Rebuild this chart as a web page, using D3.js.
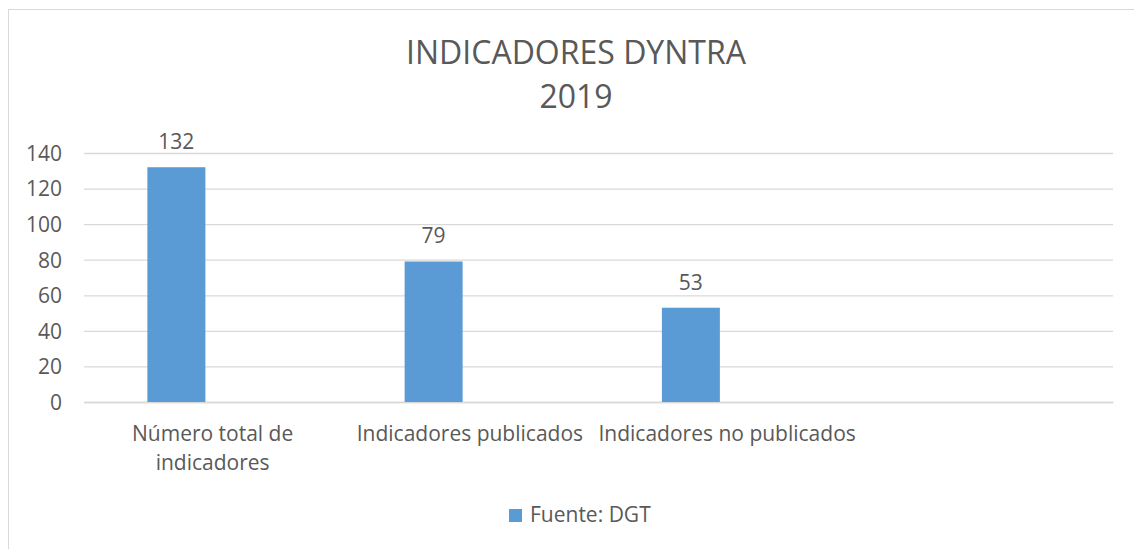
<!DOCTYPE html>
<html>
<head>
<meta charset="utf-8">
<script src="https://cdn.jsdelivr.net/npm/d3@7"></script>
<style>
  body { margin: 0; background: #fff; }
  text { font-family: "Open Sans", sans-serif; fill: #595959; }
</style>
</head>
<body>
<div id="wrapper"></div>
<script>
// data
const categories = ["Número total de indicadores", "Indicadores publicados", "Indicadores no publicados", ""];
const categoryLines = [["Número total de", "indicadores"], ["Indicadores publicados"], ["Indicadores no publicados"], [""]];
const values = [132, 79, 53, null];
const seriesName = "Fuente: DGT";
const yTicks = [0, 20, 40, 60, 80, 100, 120, 140];
const titleLines = ["INDICADORES DYNTRA", "2019"];

function buildPlot() {
    var dimension = {
        width: 1134,
        height: 549,
        margin: { top: 153, left: 84, right: 21, bottom: 147 }
    };
    dimension.boundedWidth = dimension.width - dimension.margin.left - dimension.margin.right;
    dimension.boundedHeight = dimension.height - dimension.margin.top - dimension.margin.bottom;

    const svg = d3.select("#wrapper").append("svg")
        .attr("width", dimension.width)
        .attr("height", dimension.height);

    svg.append("rect")
        .attr("width", dimension.width).attr("height", dimension.height)
        .attr("fill", "#fff");

    // chart frame (runs off the right and bottom of the picture)
    svg.append("rect")
        .attr("x", 8.5).attr("y", 9.5)
        .attr("width", 1200).attr("height", 600)
        .attr("fill", "none")
        .attr("stroke", "#D9D9D9");

    //title
    svg.append("text")
        .attr("text-anchor", "middle")
        .style("font-size", "32px")
        .selectAll("tspan")
        .data(titleLines)
        .join("tspan")
        .attr("x", 576)
        .attr("y", (d, i) => 64 + i * 44)
        .text(d => d);

    const bounded = svg.append("g")
        .attr("transform", `translate(${dimension.margin.left},${dimension.margin.top})`);

    const yScaler = d3.scaleLinear()
        .domain([0, 140])
        .range([dimension.boundedHeight, 0]);

    const xScaler = d3.scaleBand()
        .domain(categories)
        .range([0, dimension.boundedWidth]);

    // bars sit in the first slot of a two-slot cluster
    const slot = d3.scaleBand()
        .domain([0, 1])
        .range([-65.25, 65.25])
        .paddingInner(0.2);

    //gridlines + y labels
    const yAxis = bounded.append("g")
        .call(d3.axisLeft(yScaler).tickValues(yTicks).tickSize(-dimension.boundedWidth).tickPadding(22));
    yAxis.select(".domain").remove();
    yAxis.selectAll(".tick line").attr("stroke", "#D9D9D9").attr("stroke-width", 1.3);
    yAxis.selectAll(".tick text")
        .style("font-size", "21px")
        .attr("fill", "#595959")
        .attr("dy", "0.35em");

    //x axis
    const xAxis = bounded.append("g")
        .attr("transform", `translate(0,${dimension.boundedHeight})`)
        .call(d3.axisBottom(xScaler).tickSize(0).tickFormat(""));
    xAxis.select(".domain").attr("stroke", "#D9D9D9").attr("stroke-width", 1.3);
    xAxis.selectAll(".tick text").remove();
    xAxis.selectAll(".tick")
        .append("text")
        .attr("text-anchor", "middle")
        .style("font-size", "21px")
        .attr("fill", "#595959")
        .selectAll("tspan")
        .data((d, i) => categoryLines[i])
        .join("tspan")
        .attr("x", 0)
        .attr("y", (d, i) => 39 + i * 29)
        .text(d => d);

    const data = categories.map((c, i) => ({ cat: c, value: values[i] })).filter(d => d.value != null);

    //bars
    bounded.selectAll(".bar")
        .data(data)
        .join("rect")
        .attr("class", "bar")
        .attr("x", d => xScaler(d.cat) + xScaler.bandwidth() / 2 + slot(0))
        .attr("width", slot.bandwidth())
        .attr("y", d => yScaler(d.value))
        .attr("height", d => yScaler(0) - yScaler(d.value))
        .attr("fill", "#5B9BD5");

    //data labels
    bounded.selectAll(".lbl")
        .data(data)
        .join("text")
        .attr("class", "lbl")
        .attr("text-anchor", "middle")
        .style("font-size", "21px")
        .attr("x", d => xScaler(d.cat) + xScaler.bandwidth() / 2 + slot(0) + slot.bandwidth() / 2)
        .attr("y", d => yScaler(d.value) - 18)
        .text(d => d.value);

    //legend
    const legend = svg.append("g").attr("transform", "translate(509,509)");
    legend.append("rect").attr("width", 13).attr("height", 13).attr("fill", "#5B9BD5");
    legend.append("text")
        .attr("x", 21).attr("y", 13)
        .style("font-size", "21px")
        .text(seriesName);
}

buildPlot();
</script>
</body>
</html>
